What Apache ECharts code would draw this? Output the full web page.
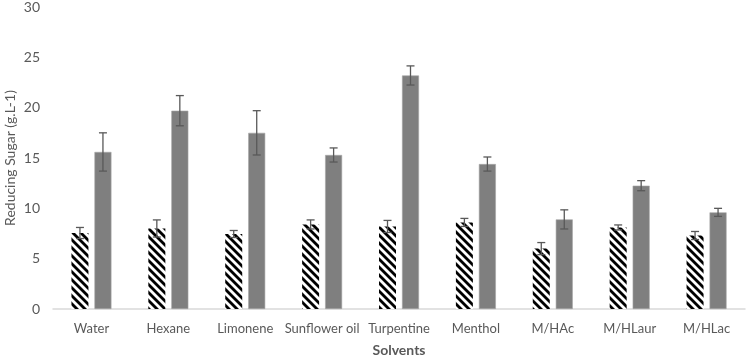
<!DOCTYPE html>
<html>
<head>
<meta charset="utf-8">
<script src="https://cdn.jsdelivr.net/npm/echarts@6/dist/echarts.min.js"></script>
<style>
html, body { margin: 0; padding: 0; background: #fff; }
#main { width: 749px; height: 357px; }
</style>
</head>
<body>
<div id="main"></div>
<script>
var solvents = ['Water', 'Hexane', 'Limonene', 'Sunflower oil', 'Turpentine', 'Menthol', 'M/HAc', 'M/HLaur', 'M/HLac'];
var hatchedValues = [7.55, 8.0, 7.45, 8.4, 8.2, 8.6, 6.0, 8.1, 7.3];
var hatchedErrors = [0.55, 0.85, 0.35, 0.45, 0.6, 0.4, 0.6, 0.25, 0.4];
var greyValues = [15.6, 19.7, 17.5, 15.3, 23.2, 14.4, 8.9, 12.25, 9.6];
var greyErrors = [1.9, 1.5, 2.2, 0.7, 0.95, 0.7, 0.95, 0.5, 0.4];
var yTicks = [0, 30, 5];

var BAR_W = 17;
var GAP = 6;
var OFFSET = (BAR_W + GAP) / 2;

function hatchPattern() {
	var c = document.createElement('canvas');
	c.width = 8; c.height = 8;
	var ctx = c.getContext('2d');
	ctx.fillStyle = '#fff';
	ctx.fillRect(0, 0, 8, 8);
	ctx.strokeStyle = '#000';
	ctx.lineWidth = 2.8;
	for (var k = -8; k <= 8; k += 8) {
		ctx.beginPath();
		ctx.moveTo(k - 1, -1);
		ctx.lineTo(k + 9, 9);
		ctx.stroke();
	}
	return c;
}

function errorSeries(values, errors, shift) {
	return {
		type: 'custom',
		z: 10,
		data: values.map(function (v, i) { return [i, v - errors[i], v + errors[i]]; }),
		renderItem: function (params, api) {
			var lo = api.coord([api.value(0), api.value(1)]);
			var hi = api.coord([api.value(0), api.value(2)]);
			var x = lo[0] + shift;
			var half = 4;
			var style = { stroke: '#595959', lineWidth: 1.3 };
			return {
				type: 'group',
				children: [
					{ type: 'line', shape: { x1: x, y1: lo[1], x2: x, y2: hi[1] }, style: style },
					{ type: 'line', shape: { x1: x - half, y1: hi[1], x2: x + half, y2: hi[1] }, style: style },
					{ type: 'line', shape: { x1: x - half, y1: lo[1], x2: x + half, y2: lo[1] }, style: style }
				]
			};
		}
	};
}

var myChart = echarts.init(document.getElementById('main'));

var option = {
	animation: false,
	textStyle: { fontFamily: 'Lato' },
	grid: { left: 53, right: 4, top: 7, bottom: 48, outerBoundsMode: 'none' },
	xAxis: {
		type: 'category',
		data: solvents,
		name: 'Solvents',
		nameLocation: 'middle',
		nameGap: 34,
		nameMoveOverlap: false,
		nameTextStyle: { fontWeight: 'bold', fontSize: 14, color: '#595959' },
		axisLine: { lineStyle: { color: '#d9d9d9', width: 1.5 } },
		axisTick: { show: false },
		axisLabel: { color: '#595959', fontSize: 13, margin: 13, interval: 0 }
	},
	yAxis: {
		type: 'value',
		min: yTicks[0],
		max: yTicks[1],
		interval: yTicks[2],
		name: 'Reducing Sugar (g.L-1)',
		nameLocation: 'middle',
		nameGap: 36,
		nameMoveOverlap: false,
		nameTextStyle: { fontSize: 14, color: '#595959' },
		axisLine: { show: false },
		axisTick: { show: false },
		splitLine: { show: false },
		axisLabel: { color: '#595959', fontSize: 14, margin: 13 }
	},
	series: [
		{
			type: 'bar',
			data: hatchedValues,
			barWidth: BAR_W,
			barGap: (GAP / BAR_W * 100) + '%',
			itemStyle: { color: { image: hatchPattern(), repeat: 'repeat' } }
		},
		{
			type: 'bar',
			data: greyValues,
			barWidth: BAR_W,
			itemStyle: { color: '#7f7f7f', borderColor: '#a6a6a6', borderWidth: 0.6 }
		},
		errorSeries(hatchedValues, hatchedErrors, -OFFSET),
		errorSeries(greyValues, greyErrors, OFFSET)
	]
};
myChart.setOption(option);
</script>
</body>
</html>
